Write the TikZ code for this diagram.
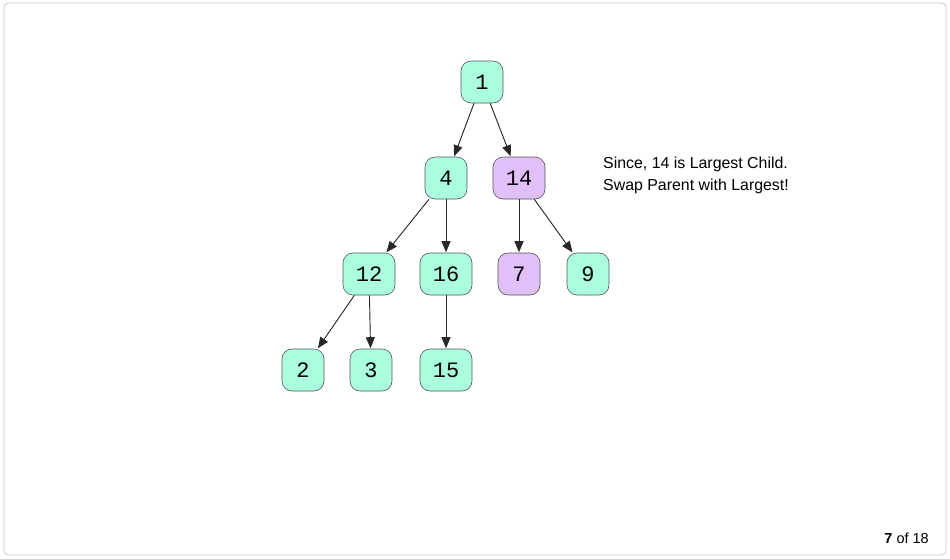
\documentclass[tikz,border=0pt]{standalone}
\usepackage{fontspec}
\setmainfont{Liberation Sans}
\newfontfamily\monofont{Liberation Mono}
\usetikzlibrary{arrows.meta}
\definecolor{nodegreen}{RGB}{170,255,220}
\definecolor{nodepurple}{RGB}{225,192,250}
\definecolor{edgegray}{RGB}{40,40,40}
\definecolor{framegray}{RGB}{200,200,200}
\begin{document}
\begin{tikzpicture}[x=1pt,y=-1pt,
  tnode/.style={draw=edgegray!80, line width=0.6pt, rounded corners=10pt, fill=nodegreen,
    minimum height=42pt, inner sep=0pt, font=\monofont\fontsize{22}{22}\selectfont},
  small/.style={tnode, minimum width=42pt},
  wide/.style={tnode, minimum width=52pt},
  hl/.style={fill=nodepurple},
  edge/.style={draw=edgegray, line width=0.9pt, -{Triangle[length=11pt,width=9pt]}, fill=edgegray, shorten >=0.5pt}]
\useasboundingbox (0,0) rectangle (950,558);
\draw[framegray, line width=0.8pt, rounded corners=4pt] (4,3) rectangle (946,555);

\node[small] (n1) at (482,82) {1};
\node[small] (n4) at (446,178) {4};
\node[wide,hl] (n14) at (519,178) {14};
\node[wide] (n12) at (369,274) {12};
\node[wide] (n16) at (446,274) {16};
\node[small,hl] (n7) at (519,274) {7};
\node[small] (n9) at (588,274) {9};
\node[small] (n2) at (303,370) {2};
\node[small] (n3) at (371,370) {3};
\node[wide] (n15) at (446,370) {15};

\draw[edge] (n1) -- (n4);
\draw[edge] (n1) -- (n14);
\draw[edge] (n4) -- (n12);
\draw[edge] (n4) -- (n16);
\draw[edge] (n14) -- (n7);
\draw[edge] (n14) -- (n9);
\draw[edge] (n12) -- (n2);
\draw[edge] (n12) -- (n3);
\draw[edge] (n16) -- (n15);

\node[anchor=north west, align=left, inner sep=0pt, font=\fontsize{15.9}{21.5}\selectfont] (note) at (603,157)
  {Since, 14 is Largest Child.\\Swap Parent with Largest!};
\node[anchor=east, inner sep=0pt, font=\fontsize{14.5}{16}\selectfont] (page) at (929,538) {\textbf{7} of 18};
\end{tikzpicture}
\end{document}
